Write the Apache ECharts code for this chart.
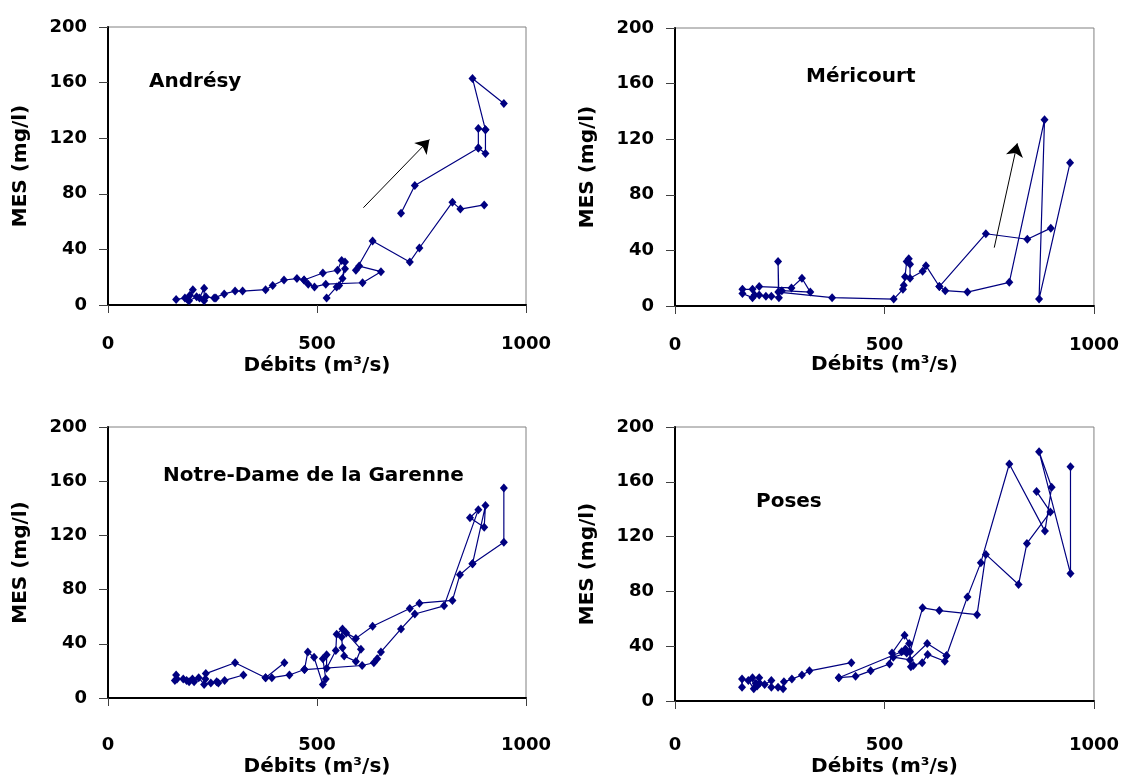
<!DOCTYPE html>
<html>
<head>
<meta charset="utf-8">
<title>MES / Débits</title>
<script src="https://cdn.jsdelivr.net/npm/echarts@6/dist/echarts.min.js"></script>
<style>
  html, body { margin: 0; padding: 0; background: #fff; }
  #chart { width: 1122px; height: 778px; }
</style>
</head>
<body>
<div id="chart"></div>
<script>
// [débit m3/s, MES mg/l], one array per drawn stretch of line
const andresyLow = [[163,4],[184,5],[190,4],[196,7],[203,11],[194,3],[212,6],[219,5],[230,12],[230,3],[234,6],[254,5],[258,5],[278,8],[304,10],[322,10],[377,11],[394,14],[421,18],[452,19],[469,18],[479,15],[494,13],[521,15],[609,16],[653,24],[601,28],[593,25],[633,46],[722,31],[745,41],[824,74],[843,69],[900,72]];
const andresyLoop = [[469,18],[514,23],[549,25],[559,32],[567,31],[561,19],[567,26],[553,14],[547,13],[523,5]];
const andresyHigh = [[701,66],[734,86],[886,113],[903,109],[903,126],[872,163],[947,145]];
const andresyKnot = [[886,113],[886,127],[903,126]];
const andresyArrow = [[611,70],[769,119]];

const mericourtLow = [[161,12],[185,12],[201,14],[278,13],[303,20],[323,10],[255,11],[247,10],[246,32],[248,6],[230,7],[217,7],[201,8],[190,8],[185,6],[161,9]];
const mericourtMain = [[247,10],[375,6],[522,5],[544,12],[546,15],[549,21],[553,32],[558,34],[561,30],[561,20],[591,25],[599,29],[631,14],[645,11],[698,10],[798,17],[882,134],[869,5],[943,103]];
const mericourtBranch = [[631,14],[742,52],[841,48],[897,56]];
const mericourtArrow = [[762,42],[817,117]];

const notreDameLow = [[160,13],[163,17],[165,14],[180,14],[188,13],[194,12],[202,14],[206,12],[217,15],[230,10],[246,11],[260,12],[264,11],[279,13],[324,17]];
const notreDameMain = [[233,14],[234,18],[304,26],[377,15],[392,15],[434,17],[470,21],[608,24],[636,26],[644,29],[653,34],[701,51],[734,62],[804,68],[886,139],[866,133],[900,126],[903,142],[872,99],[947,115],[947,155]];
const notreDameSpur = [[377,15],[422,26]];
const notreDameLoop = [[470,21],[478,34],[493,30],[514,10],[521,14],[514,29],[523,32],[523,22],[545,35],[547,47],[561,51],[559,45],[561,37],[565,31],[593,27],[605,36],[570,48],[593,44],[633,53],[722,66],[745,70],[824,72],[842,91],[872,99]];

const posesLow = [[160,10],[160,16],[175,15],[188,9],[185,17],[193,13],[196,11],[201,17],[202,13],[214,12],[230,15],[230,10],[246,10],[258,9],[260,14],[279,16],[303,19],[321,22],[421,28]];
const posesMain = [[391,17],[431,18],[467,22],[512,27],[518,35],[548,48],[559,42],[563,25],[569,26],[590,28],[603,34],[644,29],[648,33],[698,76],[730,101],[798,173],[883,124],[899,156],[869,182],[944,93],[944,171]];
const posesLoop = [[391,17],[541,36],[550,38],[553,35],[521,32],[561,30],[602,42],[648,33]];
const posesBranch = [[561,36],[591,68],[631,66],[721,63],[742,107],[820,85],[840,115],[896,138],[863,153]];

const stations = ['Andrésy', 'Méricourt', 'Notre-Dame de la Garenne', 'Poses'];
const stationLines = [
  [andresyLow, andresyLoop, andresyHigh, andresyKnot],
  [mericourtLow, mericourtMain, mericourtBranch],
  [notreDameLow, notreDameMain, notreDameSpur, notreDameLoop],
  [posesLow, posesMain, posesLoop, posesBranch]
];
const stationArrows = [andresyArrow, mericourtArrow, null, null];

const xName = 'Débits (m³/s)';
const yName = 'MES (mg/l)';

// layout of the four panels (pixels)
const layout = [
  { grid: { left: 108, top: 27, width: 418, height: 278 }, title: [149, 82], xMargin: 30, xGap: 51 },
  { grid: { left: 675, top: 28, width: 420, height: 278 }, title: [806, 77], xMargin: 30, xGap: 48 },
  { grid: { left: 108, top: 427, width: 418, height: 271 }, title: [163, 476], xMargin: 38, xGap: 59 },
  { grid: { left: 675, top: 427, width: 420, height: 274 }, title: [756, 502], xMargin: 35, xGap: 56 }
];

const NAVY = '#000080';
const tickFont = { fontFamily: 'DejaVu Sans', fontWeight: 'bold', fontSize: 18, color: '#000' };
const titleFont = { fontFamily: 'DejaVu Sans', fontWeight: 'bold', fontSize: 20, color: '#000' };

const series = [];
stationLines.forEach(function (lines, i) {
  lines.forEach(function (pts, j) {
    const s = {
      type: 'line',
      xAxisIndex: i,
      yAxisIndex: i,
      data: pts,
      symbol: 'diamond',
      symbolSize: [8, 9],
      showSymbol: true,
      lineStyle: { color: NAVY, width: 1.2 },
      itemStyle: { color: NAVY },
      emphasis: { disabled: true },
      silent: true,
      animation: false
    };
    if (j === 0 && stationArrows[i]) {
      const a = stationArrows[i];
      s.markLine = {
        silent: true,
        animation: false,
        symbol: ['none', 'arrow'],
        symbolSize: 13,
        label: { show: false },
        lineStyle: { color: '#000', width: 1, type: 'solid' },
        emphasis: { disabled: true },
        data: [[{ coord: a[0] }, { coord: a[1] }]]
      };
    }
    series.push(s);
  });
});

const option = {
  animation: false,
  backgroundColor: '#fff',
  grid: layout.map(function (l) {
    return Object.assign({ show: true, borderColor: '#808080', borderWidth: 1 }, l.grid);
  }),
  xAxis: layout.map(function (l, i) {
    return {
      gridIndex: i, type: 'value', min: 0, max: 1000, interval: 500,
      name: xName, nameLocation: 'middle', nameGap: l.xGap, nameTextStyle: titleFont,
      axisLine: { show: true, onZero: false, lineStyle: { color: '#000', width: 2 } },
      axisTick: { show: true, length: 8, lineStyle: { color: '#404040', width: 1 } },
      axisLabel: Object.assign({ margin: l.xMargin, formatter: function (v) { return String(v); } }, tickFont),
      splitLine: { show: false }
    };
  }),
  yAxis: layout.map(function (l, i) {
    return {
      gridIndex: i, type: 'value', min: 0, max: 200, interval: 40,
      name: yName, nameLocation: 'middle', nameGap: 77, nameRotate: 90, nameTextStyle: titleFont,
      axisLine: { show: true, onZero: false, lineStyle: { color: '#000', width: 2 } },
      axisTick: { show: true, length: 9, lineStyle: { color: '#404040', width: 1 } },
      axisLabel: Object.assign({ margin: 21 }, tickFont),
      splitLine: { show: false }
    };
  }),
  graphic: layout.map(function (l, i) {
    return {
      type: 'text', x: l.title[0], y: l.title[1], silent: true,
      style: {
        text: stations[i], fill: '#000', align: 'left', verticalAlign: 'middle',
        font: 'bold 20px "DejaVu Sans"'
      }
    };
  }),
  series: series
};

const chart = echarts.init(document.getElementById('chart'));
chart.setOption(option);
</script>
</body>
</html>
